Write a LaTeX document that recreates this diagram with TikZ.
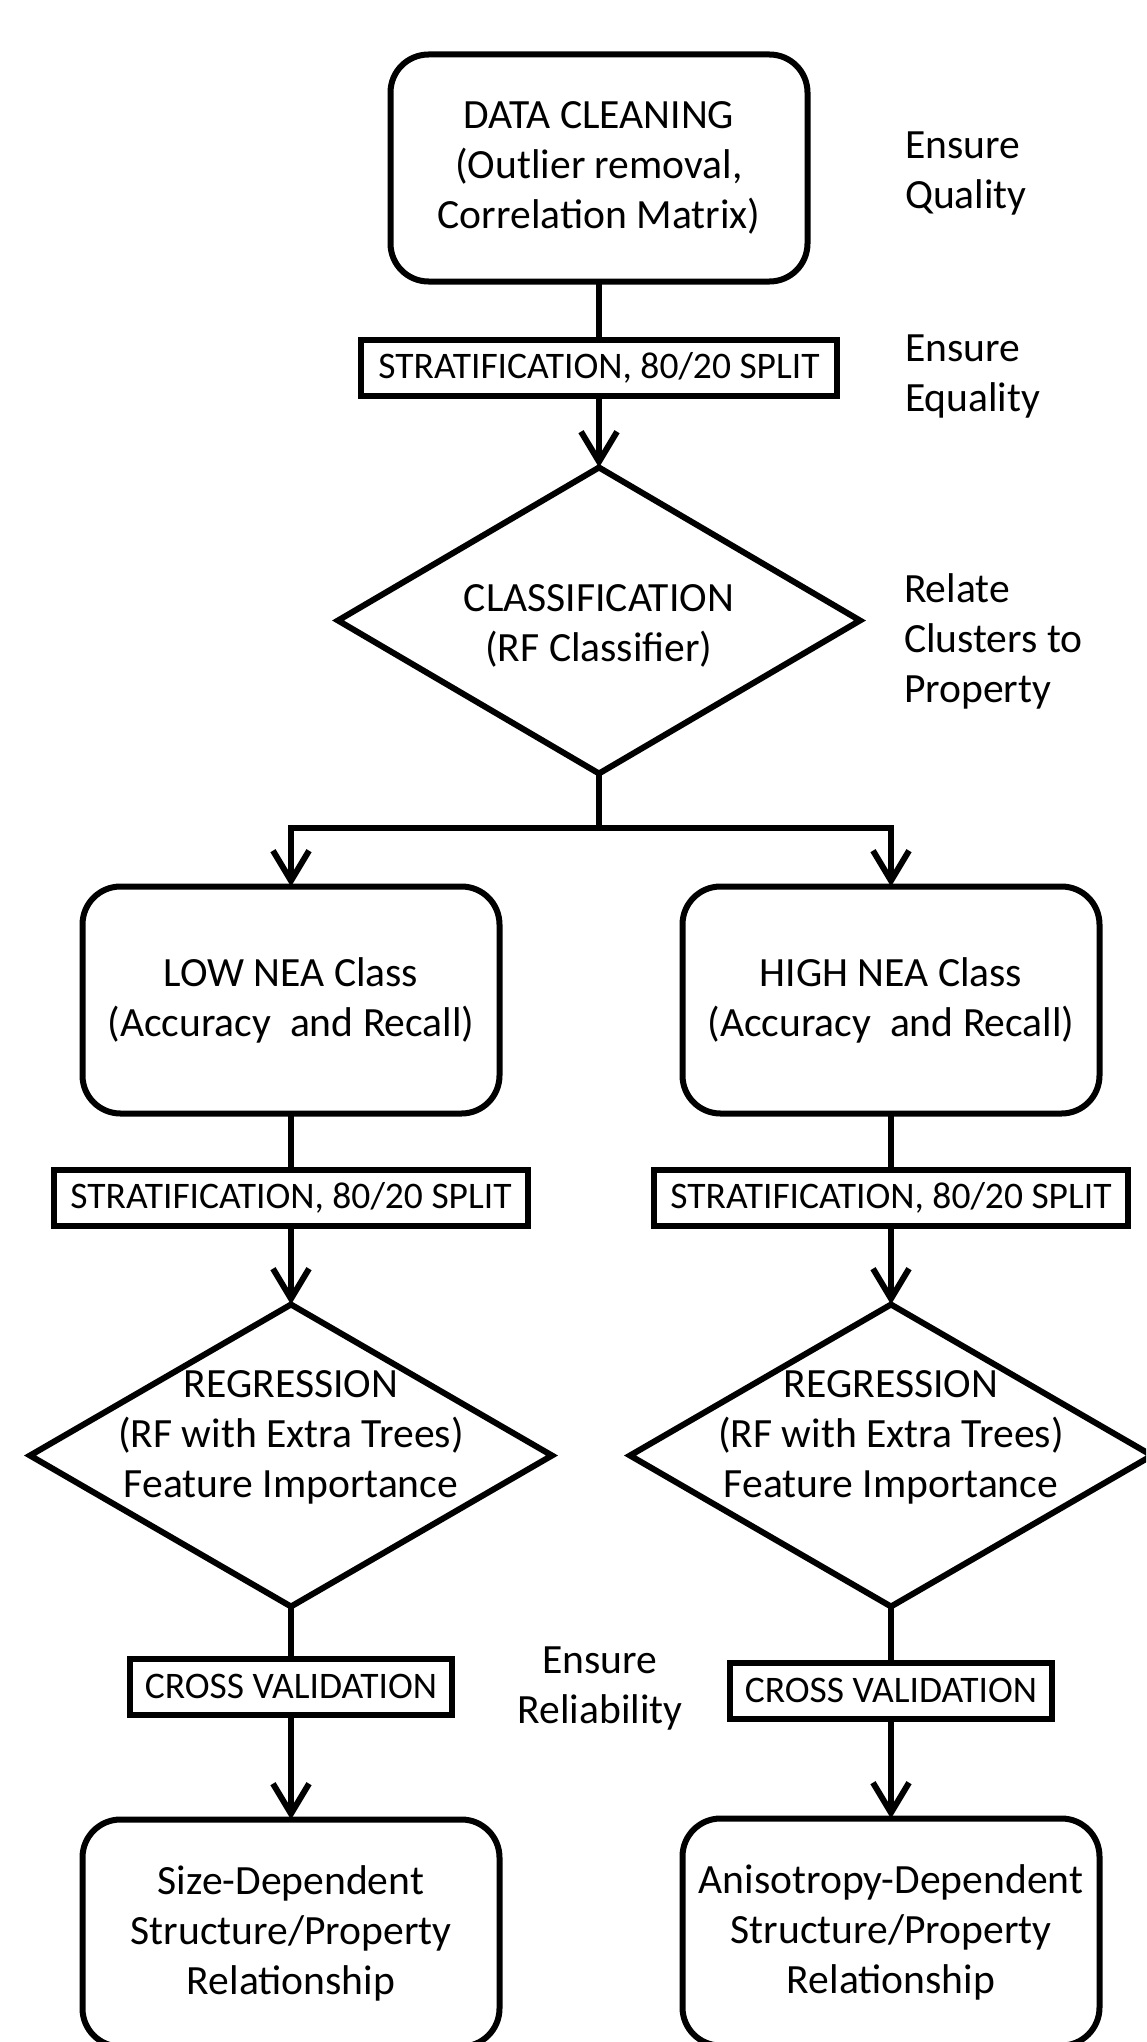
\documentclass[tikz,border=0pt]{standalone}
\usepackage{fontspec}
\setmainfont{Carlito}
\usetikzlibrary{shapes.geometric, positioning, arrows.meta}
\tikzset{
    x=1pt, y=-1pt,
    every node/.style={font=\fontsize{41.6}{50}\selectfont, align=center, inner sep=0pt, outer sep=0pt},
    box/.style={draw, line width=6pt, rounded corners=38pt, minimum width=417pt, minimum height=227pt},
    split/.style={draw, line width=6pt, font=\fontsize{37.5}{44}\selectfont, minimum height=56pt},
    decision/.style={draw, diamond, line width=6pt, minimum width=522pt, minimum height=302pt},
    note/.style={align=left, anchor=west},
    link/.style={line width=6pt},
    flow/.style={link, -{Straight Barb[length=30pt, width=36pt]}}
}

\begin{document}
\begin{tikzpicture}
    \path[use as bounding box] (0,0) rectangle (1146,2042);
    \clip (0,0) rectangle (1146,2042);
    \fill[white] (0,0) rectangle (1146,2042);

    % main column
    \node[box] (clean) at (599,168) {DATA CLEANING\\(Outlier removal,\\Correlation Matrix)};
    \node[split, minimum width=476pt, below=58pt of clean] (split) {STRATIFICATION, 80/20 SPLIT};
    \node[decision, minimum height=306pt, below=72pt of split] (cls) {};
    \node at ([yshift=-5pt]cls.center) (clstext) {CLASSIFICATION\\(RF Classifier)};

    % left branch
    \node[box] (low) at (291,1000) {LOW NEA Class\\(Accuracy\ \ and Recall)};
    \node[split, minimum width=474pt, below=56pt of low] (splitl) {STRATIFICATION, 80/20 SPLIT};
    \node[decision, below=79pt of splitl] (regl) {};
    \node at ([yshift=18pt]regl.center) (regltext) {REGRESSION\\(RF with Extra Trees)\\Feature Importance};
    \node[split, minimum width=322pt, below=52pt of regl] (cvl) {CROSS VALIDATION};
    \node[box, below=105pt of cvl] (sizedep) {Size-Dependent\\Structure/Property\\Relationship};

    % right branch
    \node[box] (high) at (891,1000) {HIGH NEA Class\\(Accuracy\ \ and Recall)};
    \node[split, minimum width=474pt, below=56pt of high] (splitr) {STRATIFICATION, 80/20 SPLIT};
    \node[decision, below=79pt of splitr] (regr) {};
    \node at ([yshift=18pt]regr.center) (regrtext) {REGRESSION\\(RF with Extra Trees)\\Feature Importance};
    \node[split, minimum width=322pt, below=56pt of regr] (cvr) {CROSS VALIDATION};
    \node[box, below=100pt of cvr] (anisodep) {Anisotropy-Dependent\\Structure/Property\\Relationship};

    % side notes
    \node[note] (quality) at (905,174) {Ensure\\Quality};
    \node[note] (equality) at (905,377) {Ensure\\Equality};
    \node[note] (relate) at (904,641) {Relate\\Clusters to\\Property};
    \node (reliable) at (600,1688) {Ensure\\Reliability};

    \draw[link] (clean) -- (split);
    \draw[flow] (split) -- (cls);
    \draw[flow] (cls.south) -- ++(0,54) -| (low);
    \draw[flow] (cls.south) -- ++(0,54) -| (high);
    \draw[link] (low) -- (splitl);
    \draw[flow] (splitl) -- (regl);
    \draw[link] (regl) -- (cvl);
    \draw[flow] (cvl) -- (sizedep);
    \draw[link] (high) -- (splitr);
    \draw[flow] (splitr) -- (regr);
    \draw[link] (regr) -- (cvr);
    \draw[flow] (cvr) -- (anisodep);
\end{tikzpicture}
\end{document}
